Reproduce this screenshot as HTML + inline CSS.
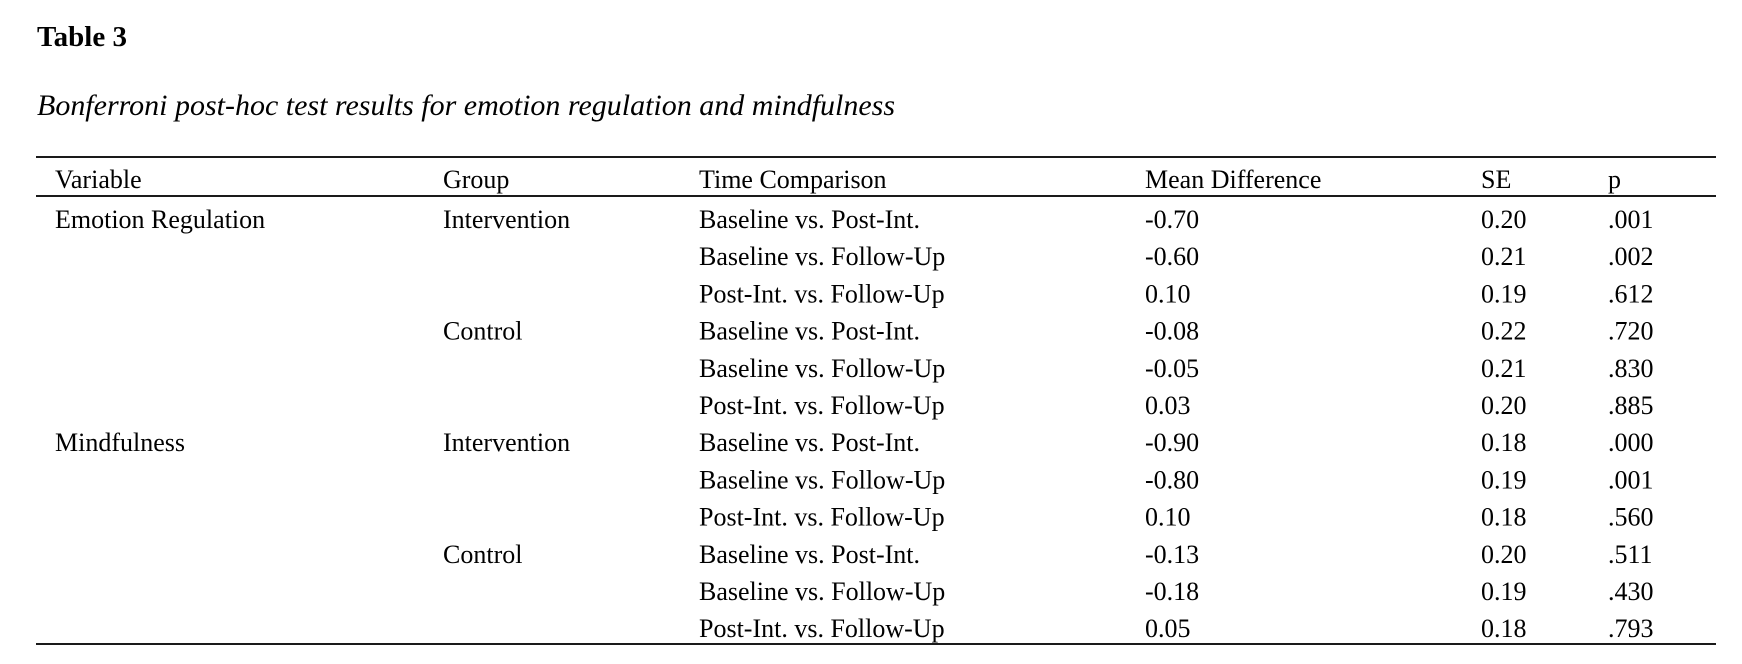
<!DOCTYPE html>
<html>
<head>
<meta charset="utf-8">
<style>
html,body{margin:0;padding:0;background:#fff;}
body{width:1742px;height:664px;overflow:hidden;}
svg{display:block;}
text{font-family:"Liberation Serif","Times New Roman",serif;font-size:26px;fill:#000;}
</style>
</head>
<body>
<svg width="1742" height="664" viewBox="0 0 1742 664" xmlns="http://www.w3.org/2000/svg">
<rect width="1742" height="664" fill="#fff"/>
<text x="37" y="46" style="font-weight:bold;font-size:29px">Table 3</text>
<text x="37" y="115" style="font-style:italic;font-size:30px" textLength="858" lengthAdjust="spacingAndGlyphs">Bonferroni post-hoc test results for emotion regulation and mindfulness</text>

<rect x="36" y="156" width="1680" height="2" fill="#1a1a1a"/>
<rect x="36" y="195" width="1680" height="2" fill="#1a1a1a"/>
<rect x="36" y="643" width="1680" height="2" fill="#1a1a1a"/>

<text x="55" y="188">Variable</text>
<text x="443" y="188">Group</text>
<text x="699" y="188">Time Comparison</text>
<text x="1145" y="188">Mean Difference</text>
<text x="1481" y="188">SE</text>
<text x="1608" y="188">p</text>

<text x="55" y="228">Emotion Regulation</text>
<text x="443" y="228">Intervention</text>
<text x="699" y="228">Baseline vs. Post-Int.</text>
<text x="1145" y="228">-0.70</text>
<text x="1481" y="228">0.20</text>
<text x="1608" y="228">.001</text>

<text x="699" y="265.2">Baseline vs. Follow-Up</text>
<text x="1145" y="265.2">-0.60</text>
<text x="1481" y="265.2">0.21</text>
<text x="1608" y="265.2">.002</text>

<text x="699" y="302.4">Post-Int. vs. Follow-Up</text>
<text x="1145" y="302.4">0.10</text>
<text x="1481" y="302.4">0.19</text>
<text x="1608" y="302.4">.612</text>

<text x="443" y="339.6">Control</text>
<text x="699" y="339.6">Baseline vs. Post-Int.</text>
<text x="1145" y="339.6">-0.08</text>
<text x="1481" y="339.6">0.22</text>
<text x="1608" y="339.6">.720</text>

<text x="699" y="376.8">Baseline vs. Follow-Up</text>
<text x="1145" y="376.8">-0.05</text>
<text x="1481" y="376.8">0.21</text>
<text x="1608" y="376.8">.830</text>

<text x="699" y="414">Post-Int. vs. Follow-Up</text>
<text x="1145" y="414">0.03</text>
<text x="1481" y="414">0.20</text>
<text x="1608" y="414">.885</text>

<text x="55" y="451.2">Mindfulness</text>
<text x="443" y="451.2">Intervention</text>
<text x="699" y="451.2">Baseline vs. Post-Int.</text>
<text x="1145" y="451.2">-0.90</text>
<text x="1481" y="451.2">0.18</text>
<text x="1608" y="451.2">.000</text>

<text x="699" y="488.4">Baseline vs. Follow-Up</text>
<text x="1145" y="488.4">-0.80</text>
<text x="1481" y="488.4">0.19</text>
<text x="1608" y="488.4">.001</text>

<text x="699" y="525.6">Post-Int. vs. Follow-Up</text>
<text x="1145" y="525.6">0.10</text>
<text x="1481" y="525.6">0.18</text>
<text x="1608" y="525.6">.560</text>

<text x="443" y="562.8">Control</text>
<text x="699" y="562.8">Baseline vs. Post-Int.</text>
<text x="1145" y="562.8">-0.13</text>
<text x="1481" y="562.8">0.20</text>
<text x="1608" y="562.8">.511</text>

<text x="699" y="600">Baseline vs. Follow-Up</text>
<text x="1145" y="600">-0.18</text>
<text x="1481" y="600">0.19</text>
<text x="1608" y="600">.430</text>

<text x="699" y="637.2">Post-Int. vs. Follow-Up</text>
<text x="1145" y="637.2">0.05</text>
<text x="1481" y="637.2">0.18</text>
<text x="1608" y="637.2">.793</text>
</svg>
</body>
</html>
